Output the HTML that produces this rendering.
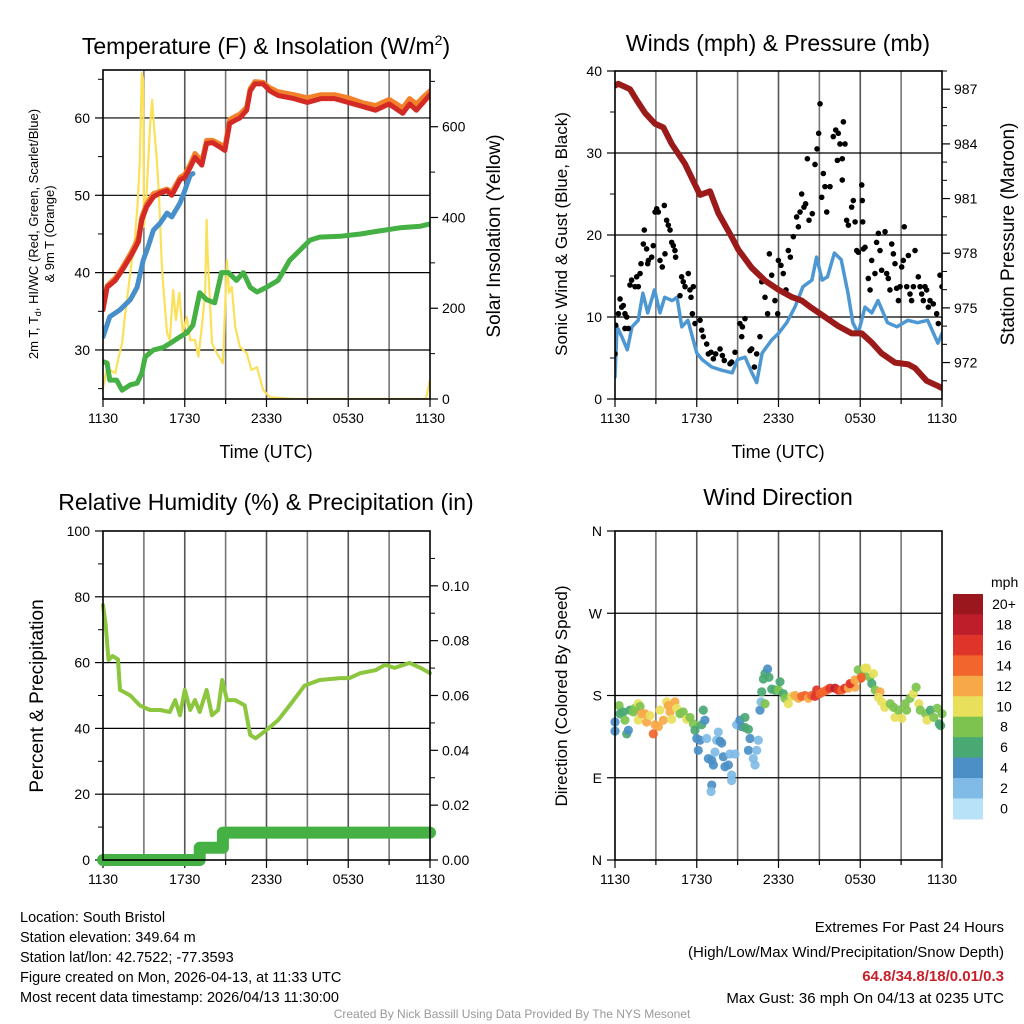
<!DOCTYPE html>
<html><head><meta charset="utf-8">
<style>
html,body{margin:0;padding:0;background:#fff;}
svg{display:block;font-family:"Liberation Sans",Arial,sans-serif;}
</style></head>
<body>
<svg id="c" width="1024" height="1024" viewBox="0 0 1024 1024" xmlns="http://www.w3.org/2000/svg">
<g>
<text x="266" y="54" font-size="23" text-anchor="middle">Temperature (F) &amp; Insolation (W/m<tspan font-size="14" dy="-9">2</tspan><tspan dy="9">)</tspan></text>
<text x="778" y="51" font-size="23" text-anchor="middle">Winds (mph) &amp; Pressure (mb)</text>
<text x="266" y="510" font-size="23" text-anchor="middle">Relative Humidity (%) &amp; Precipitation (in)</text>
<text x="778" y="505" font-size="23" text-anchor="middle">Wind Direction</text>
</g>
<g font-size="18">
<text x="266" y="458" text-anchor="middle">Time (UTC)</text>
<text x="778" y="458" text-anchor="middle">Time (UTC)</text>
<text transform="translate(38,234) rotate(-90)" font-size="13" text-anchor="middle">2m T, T<tspan font-size="9" dy="3">d</tspan><tspan dy="-3">, HI/WC (Red, Green, Scarlet/Blue)</tspan></text>
<text transform="translate(54,234) rotate(-90)" font-size="13" text-anchor="middle">&amp; 9m T (Orange)</text>
<text transform="translate(500,236) rotate(-90)" font-size="19" text-anchor="middle">Solar Insolation (Yellow)</text>
<text transform="translate(567,234) rotate(-90)" font-size="17" text-anchor="middle">Sonic Wind &amp; Gust (Blue, Black)</text>
<text transform="translate(1014,234) rotate(-90)" font-size="19" text-anchor="middle">Station Pressure (Maroon)</text>
<text transform="translate(43,696) rotate(-90)" font-size="19" text-anchor="middle">Percent &amp; Precipitation</text>
<text transform="translate(567,696) rotate(-90)" font-size="17" text-anchor="middle">Direction (Colored By Speed)</text>
</g>
<g font-size="14.5">
<text x="20" y="922">Location: South Bristol</text>
<text x="20" y="942">Station elevation: 349.64 m</text>
<text x="20" y="962">Station lat/lon: 42.7522; -77.3593</text>
<text x="20" y="982">Figure created on Mon, 2026-04-13, at 11:33 UTC</text>
<text x="20" y="1002">Most recent data timestamp: 2026/04/13 11:30:00</text>
</g>
<g font-size="15" text-anchor="end">
<text x="1004" y="932">Extremes For Past 24 Hours</text>
<text x="1004" y="957">(High/Low/Max Wind/Precipitation/Snow Depth)</text>
<text x="1004" y="981" fill="#c8202a" font-weight="bold">64.8/34.8/18/0.01/0.3</text>
<text x="1004" y="1003">Max Gust: 36 mph On 04/13 at 0235 UTC</text>
</g>
<text x="512" y="1018" font-size="12" fill="#999" text-anchor="middle">Created By Nick Bassill Using Data Provided By The NYS Mesonet</text>
</svg>
<script>
// ---- Temperature panel data (hours since 1130 UTC) ----
const redHours=[0,0.3,0.9,1.4,2.1,2.6,2.85,3.2,3.7,4.2,4.7,5.05,5.65,6.0,6.4,6.75,7.25,7.6,8.05,8.6,8.95,9.3,9.7,10.05,10.55,10.8,11.15,11.75,12.25,12.85,14,15,16,17,18,19,20,21,22,22.5,23,23.5,24];
const redTemp=[35.2,38.1,39,40.3,42.3,44,46.8,48.5,49.8,50.3,50.6,50,52,52.3,53.6,54.9,53.9,56.7,56.8,56.2,55.8,59.3,59.7,60,61,63.5,64.4,64.4,63.5,62.9,62.5,62,62.5,62.5,62,61.5,61,61.8,60.6,61.8,61,62,63];
const orangeTemp=[35.6,38.3,39.3,40.6,42.7,44.5,47.2,48.9,50.2,50.5,50.8,50.4,52.3,52.7,54,55.4,54.4,57.1,57.1,56.6,56.3,59.8,60.2,60.5,61.4,63.8,64.7,64.6,63.9,63.4,63,62.6,63,63,62.6,62,61.6,62.4,61.3,62.5,61.8,62.7,63.5];
const blueHours=[0,0.5,1.25,2,2.5,2.95,3.3,3.7,4.2,4.7,5.05,5.65,6.0,6.4,6.6];
const blueTemp=[31.7,34.3,35.2,36.5,38.1,41.6,43.3,45.5,46.4,47.7,47.2,49,50.6,52.6,52.8];
const dewHours=[0,0.3,0.5,1.0,1.4,2.0,2.5,2.85,3.1,3.7,4.4,5.05,5.65,6.15,6.6,7.1,7.6,8.2,8.7,9.2,9.8,10.3,10.8,11.3,12,12.85,13.7,15.2,15.9,17.4,18.9,20.3,21.8,23.3,24];
const dewTemp=[28.5,28.3,26.1,26.1,24.8,25.5,25.7,27,29.1,30,30.3,31,31.7,32.2,33.2,37.4,36.5,36.1,40,40,39,40,38.1,37.5,38.1,39,41.6,44.2,44.6,44.7,45,45.4,45.8,46,46.3];
const solarHours=[0,0.3,0.5,0.9,1.1,1.4,1.6,2.0,2.35,2.55,2.7,2.85,2.95,3.0,3.2,3.45,3.6,3.75,3.95,4.1,4.3,4.4,4.7,4.9,5.15,5.35,5.6,5.85,6.15,6.4,6.75,7.0,7.25,7.5,7.6,7.7,8.0,8.35,8.8,9.1,9.25,9.45,9.7,10.05,10.55,10.9,11.3,11.75,12.25,14,18,23.7,24];
const solarVals=[24,70,64,57,86,123,180,278,357,432,527,718,703,379,454,600,659,600,527,454,306,256,146,130,240,174,234,146,181,130,130,93,159,234,395,306,123,101,79,306,234,247,159,115,101,64,70,20,4,0,0,0,42];
// ---- Wind panel data ----
const windHours=[0,0.15,0.5,0.9,1.25,1.7,2.05,2.4,2.9,3.3,3.65,4.2,4.55,4.9,5.35,6.0,6.4,7.1,7.85,8.6,9.0,9.55,10.05,10.4,10.8,11.5,12,12.6,13.2,13.8,14.45,14.8,15.2,15.6,16.1,16.6,17.1,17.45,17.85,18.35,18.85,19.3,20,20.7,21.5,22.2,22.95,23.7,24];
const windSpeed=[2.7,8.8,7.6,6,8.8,9.6,12.9,10.5,13.3,10.5,12.4,12,12.4,8.8,9.6,5.6,4.8,3.9,3.5,3.2,4.8,5.1,3.2,2,5.6,7.2,8,9.3,11.2,13.7,14.5,17.3,14.5,14.9,17.8,17,12.9,9.3,8,11.2,10.5,12,9.3,8.8,9.6,9.3,9.6,6.8,8];
const gustHours=[0,0.05,0.25,0.37,0.49,0.61,0.73,0.86,0.73,0.98,1.1,1.22,1.47,1.59,1.71,1.84,1.91,2.08,2.15,2.32,2.4,2.45,2.69,2.81,2.94,3.06,3.18,3.3,3.47,3.62,3.67,3.79,3.91,4.04,4.16,4.28,4.4,4.45,4.77,4.89,5.01,5.14,5.38,5.5,5.58,5.68,5.75,5.87,6.24,6.36,6.48,6.73,6.85,7.05,7.22,7.39,7.71,7.88,8.02,8.44,8.56,8.81,9.17,9.35,9.54,9.3,9.91,10.03,10.23,10.4,10.64,10.77,11.01,11.2,11.33,11.5,11.74,11.94,11.99,12.18,12.35,12.55,12.72,12.87,13.09,13.33,13.46,13.58,13.7,13.87,13.99,14.12,14.24,14.48,14.68,14.83,14.95,15.05,15.17,15.29,15.41,15.54,15.78,16.02,16.2,16.32,16.39,16.51,16.68,16.76,16.88,16.68,17.0,17.13,17.37,17.49,17.62,18.11,18.15,18.18,17.74,17.86,18.23,18.35,18.59,18.72,18.84,19.08,19.2,19.33,19.45,19.57,19.82,19.94,20.06,20.18,20.31,20.43,20.55,20.67,20.8,20.92,21.04,21.16,21.23,21.41,21.53,21.65,21.77,21.9,22.02,22.26,22.39,22.51,22.63,22.75,22.87,23.0,23.12,23.36,23.61,23.73,23.85,24.0];
const gustSpeed=[5.5,9.0,10.4,12.2,11.2,11.4,10.4,10.0,8.6,8.6,13.9,14.5,13.7,14.9,13.7,15.3,16.5,18.9,20.6,18.3,16.5,16.9,17.3,18.7,22.8,23.2,22.8,16.9,16.1,23.6,17.7,21.8,21.2,20.6,19.1,18.7,18.1,17.3,12.6,14.9,14.3,13.7,15.3,13.3,12.4,10.4,13.7,9.2,9.6,8.4,7.6,6.7,5.5,5.7,4.9,5.5,6.1,5.3,4.7,4.3,4.5,5.7,9.2,8.8,9.8,7.6,5.9,6.1,3.9,5.5,7.6,14.3,12.4,10.4,17.7,15.1,12.0,10.4,16.9,16.3,15.3,13.3,18.1,17.3,19.8,22.2,21.0,22.8,25.0,23.4,23.8,29.3,21.8,22.6,28.6,30.5,32.4,36.0,24.6,27.5,25.9,22.8,25.9,32.0,32.8,29.1,32.4,31.1,29.3,33.8,31.1,26.7,21.8,21.2,23.4,24.2,21.6,26.1,24.2,21.6,18.1,17.9,18.3,18.5,14.7,13.3,16.9,15.3,19.1,20.2,18.1,15.7,20.4,15.3,14.7,13.3,18.9,17.7,16.5,13.5,12.0,13.7,16.1,16.9,21.0,13.7,17.5,12.8,12.0,13.7,18.1,14.9,13.7,12.8,12.0,13.7,13.3,11.2,12.0,11.6,10.4,9.2,15.1,13.7];
const presHours=[0,0.25,1.1,1.59,2.2,2.94,3.55,4.16,5.14,6.24,6.97,7.58,8.56,9.05,10.03,11.01,12,12.97,13.7,14.43,15.41,16.39,17.37,18.11,18.84,19.57,20.55,21.53,22.02,22.87,23.73,24];
const presVals=[987.2,987.3,987.0,986.4,985.7,985.1,984.9,984.0,982.9,981.2,981.4,980.2,978.9,978.2,977.2,976.5,976.0,975.6,975.4,975.0,974.5,974.0,973.6,973.6,973.1,972.5,972.0,971.9,971.7,971.0,970.7,970.6];
// ---- Humidity / precipitation ----
const rhHours=[0,0.2,0.4,0.7,1.1,1.25,2,2.7,3.45,4.2,4.9,5.3,5.65,6,6.4,6.75,7.1,7.6,8,8.45,8.75,9.1,9.7,10.4,10.8,11.2,12,12.85,13.7,14.8,15.9,17.4,18.1,18.9,20,20.7,21.4,22.5,23.3,24];
const rhVals=[77.5,71.4,60.8,62,61,51.7,50,47,45.6,45.6,45,48.6,44,51.7,45.6,48.6,45,51.7,44,45.6,54.7,48.6,48.6,47,38,37,39.5,42.5,47,53,54.7,55.3,55.3,56.8,57.7,59.3,58.4,59.9,58.4,56.8];
const precipHours=[0,7.1,7.1,8.8,8.8,24];
const precipVals=[0,0,0.0045,0.0045,0.01,0.01];
// ---- Wind direction ----
const dirHours=[0,0,0.3,0.37,0.61,0.73,0.86,0.98,1.1,1.35,1.47,1.71,1.71,1.84,1.96,2.2,2.32,2.57,2.81,2.94,3.18,3.3,3.55,3.79,3.91,4.04,4.16,4.4,4.53,4.77,5.01,5.26,5.5,5.75,5.87,6,6.11,6.24,6.36,6.48,6.6,6.73,6.85,7.1,7.22,7.46,7.58,7.71,7.83,7.34,7.95,8.07,8.32,8.44,8.56,8.56,8.81,7.1,7.05,8.93,9.17,9.3,9.54,9.54,9.79,9.91,9.79,10.15,10.28,10.4,10.52,10.64,10.72,11.01,10.77,10.89,11.01,11.2,11.3,11.5,11.74,11.99,12.11,12.35,12.47,12.72,12.97,13.21,13.46,13.7,13.94,14.19,14.43,14.68,14.8,15.05,15.29,15.54,15.78,16.15,16.39,16.64,16.88,17.13,17.37,17.62,17.86,18.05,18.23,18.47,17.25,17.6,17.85,18.1,18.35,18.7,18.85,18.97,19.1,19.45,19.33,19.57,19.8,20.2,20.45,20.55,20.8,21.05,21.3,21.4,21.65,21.9,22.1,22.3,22.4,22.8,22.9,23.15,23.4,23.65,23.8,24,23.9];
const dirVals=[151,141,169,160,162,153,138,142,164,162,166,171,153,168,160,160,151,158,138,148,146,164,153,173,169,162,154,173,166,160,162,154,156,149,142,133,120,131,148,164,153,133,111,109,104,131,140,130,128,118,113,102,104,116,93,87,116,82,75,148,153,146,156,145,143,133,120,111,104,120,131,164,173,171,184,198,204,209,200,187,186,186,195,182,177,171,179,180,177,179,180,177,180,179,186,182,184,186,188,188,186,186,188,188,193,189,198,199,206,210,193,197,208,200,210,200,193,204,186,184,178,173,167,171,167,156,164,155,171,164,177,182,189,171,164,160,153,164,156,166,149,160,147];
const dirSpeed=[5,5,9,7,7,9,7,5,7,9,9,11,11,9,13,13,13,11,15,13,13,11,13,11,13,13,11,13,11,9,9,11,9,9,7,5,5,5,7,7,5,3,5,5,5,3,3,5,5,3,5,5,5,3,3,3,3,5,3,3,5,5,7,7,7,5,5,3,3,3,3,5,3,9,7,7,7,5,7,7,7,9,7,7,9,11,11,13,13,15,15,13,15,17,17,15,15,15,17,19,17,15,17,13,15,13,11,17,9,11,17,13,9,15,11,9,7,11,9,13,11,11,11,9,9,11,9,11,9,9,9,11,9,11,9,9,11,7,9,9,7,9,7];
const speedBins=[0,2,4,6,8,10,12,14,16,18,20];
const speedColors=['#b8e2f7','#7fbbe6','#4b8fc6','#4aa872','#7dc34f','#e8e05a','#f7a848','#f2652d','#df3429','#be1e2a','#9a171d'];
const speedLabels=['0','2','4','6','8','10','12','14','16','18','20+'];
const xTickLabels=['1130','1730','2330','0530','1130'];

const NS='http://www.w3.org/2000/svg';
const svg=document.getElementById('c');
function mk(tag,attrs,parent){const e=document.createElementNS(NS,tag);for(const k in attrs)e.setAttribute(k,attrs[k]);(parent||svg).appendChild(e);return e;}
function lin(d0,d1,r0,r1){return v=>r0+(v-d0)*(r1-r0)/(d1-d0);}

function panel(name,x0,x1,y0,y1){
  const g=mk('g',{});
  
  
  const xs=lin(0,24,x0,x1);
  for(let h=3;h<24;h+=3){
    const l=mk('line',{x1:xs(h),x2:xs(h),y1:y0,y2:y1,stroke:h%6===0?'#555':'#777','stroke-width':1.6},g);
    
    
  }
  for(let h=0;h<=24;h+=3){
    mk('line',{x1:xs(h),x2:xs(h),y1:y1,y2:y1+(h%6===0?8:5),stroke:'#000','stroke-width':1.2},g);
  }
  xTickLabels.forEach((t,i)=>{
    const tx=mk('text',{x:xs(i*6),y:y1+24,'font-size':14,'text-anchor':'middle'},g);
    tx.textContent=t;
    
    
  });
  return {g,xs};
}
function yAxis(g,x0,x1,y0,y1,scale,majors,minors,labels,side,grid,fs){
  majors.forEach((v,i)=>{
    const y=scale(v);
    if(grid&&y>y0+1&&y<y1-1){const l=mk('line',{x1:x0,x2:x1,y1:y,y2:y,stroke:'#000','stroke-width':1.2},g);
      
      }
    const xa=side==='left'?x0:x1, d=side==='left'?-8:8;
    mk('line',{x1:xa,x2:xa+d,y1:y,y2:y,stroke:'#000','stroke-width':1.2},g);
    const t=mk('text',{x:xa+(side==='left'?-13:12),y:y+5,'font-size':fs||14,'text-anchor':side==='left'?'end':'start'},g);
    t.textContent=labels[i];
    
    
  });
  minors.forEach(v=>{const y=scale(v);const xa=side==='left'?x0:x1;mk('line',{x1:xa,x2:xa+(side==='left'?-5:5),y1:y,y2:y,stroke:'#000','stroke-width':1},g);});
}
function frame(g,x0,x1,y0,y1){const r=mk('rect',{x:x0,y:y0,width:x1-x0,height:y1-y0,fill:'none',stroke:'#000','stroke-width':1.6},g);
  
  }
function line(g,xs,ys,hours,vals,color,w,name){
  const d=hours.map((h,i)=>(i?'L':'M')+xs(h).toFixed(1)+','+ys(vals[i]).toFixed(1)).join('');
  const p=mk('path',{d:d,fill:'none',stroke:color,'stroke-width':w,'stroke-linejoin':'round','stroke-linecap':'round'},g);
  
  
  return p;
}
function clip(id,x0,x1,y0,y1){const cp=mk('clipPath',{id:id});mk('rect',{x:x0,y:y0,width:x1-x0,height:y1-y0},cp);}

(function(){
  const X0=103,X1=430,Y0=70,Y1=399;
  const {g,xs}=panel('temperature-panel',X0,X1,Y0,Y1);
  const yl=lin(23.66,66.2,Y1,Y0), yr=lin(0,725,Y1,Y0);
  yAxis(g,X0,X1,Y0,Y1,yl,[30,40,50,60],[25,35,45,55,65],['30','40','50','60'],'left',true);
  yAxis(g,X0,X1,Y0,Y1,yr,[0,200,400,600],[100,300,500,700],['0','200','400','600'],'right',false);
  clip('cp1',X0,X1,Y0-4,Y1);
  const d=mk('g',{'clip-path':'url(#cp1)'},g);
  line(d,xs,yr,solarHours,solarVals,'#fbe05a',2.2,'solar-line');
  line(d,xs,yl,dewHours,dewTemp,'#45b044',5,'dewpoint-line');
  line(d,xs,yl,redHours,orangeTemp,'#f2812a',5,'temp-9m-line');
  line(d,xs,yl,blueHours,blueTemp,'#468fcb',5,'heat-index-line');
  line(d,xs,yl,redHours,redTemp,'#d42a26',5,'temp-2m-line');
  frame(g,X0,X1,Y0,Y1);
})();
(function(){
  const X0=615,X1=942,Y0=71,Y1=399;
  const {g,xs}=panel('wind-panel',X0,X1,Y0,Y1);
  const yl=lin(0,40,Y1,Y0), yr=lin(970,988,Y1,Y0);
  yAxis(g,X0,X1,Y0,Y1,yl,[0,10,20,30,40],[5,15,25,35],['0','10','20','30','40'],'left',true);
  const pm=[];for(let p=971;p<=988;p++)if((p-972)%3!==0)pm.push(p);
  yAxis(g,X0,X1,Y0,Y1,yr,[972,975,978,981,984,987],pm,['972','975','978','981','984','987'],'right',false);
  clip('cp2',X0,X1,Y0,Y1);
  const d=mk('g',{'clip-path':'url(#cp2)'},g);
  line(d,xs,yl,windHours,windSpeed,'#4d97d2',3.5,'sustained-wind-line');
  gustHours.forEach((h,i)=>{
    const c=mk('circle',{cx:xs(h),cy:yl(gustSpeed[i]),r:2.8,fill:'#000'},d);
    
    
  });
  line(d,xs,yr,presHours,presVals,'#9b1a1a',6,'pressure-line');
  frame(g,X0,X1,Y0,Y1);
})();
(function(){
  const X0=103,X1=430,Y0=531,Y1=860;
  const {g,xs}=panel('humidity-panel',X0,X1,Y0,Y1);
  const yl=lin(0,100,Y1,Y0), yr=lin(0,0.12,Y1,Y0);
  yAxis(g,X0,X1,Y0,Y1,yl,[0,20,40,60,80,100],[10,30,50,70,90],['0','20','40','60','80','100'],'left',true);
  yAxis(g,X0,X1,Y0,Y1,yr,[0,0.02,0.04,0.06,0.08,0.10],[0.01,0.03,0.05,0.07,0.09,0.11],['0.00','0.02','0.04','0.06','0.08','0.10'],'right',false);
  line(g,xs,yl,rhHours,rhVals,'#8cc63f',4,'humidity-line');
  line(g,xs,yr,precipHours,precipVals,'#45b044',12,'precipitation-line');
  frame(g,X0,X1,Y0,Y1);
})();
(function(){
  const X0=615,X1=942,Y0=531,Y1=860;
  const {g,xs}=panel('wind-direction-panel',X0,X1,Y0,Y1);
  const yl=lin(0,360,Y1,Y0);
  yAxis(g,X0,X1,Y0,Y1,yl,[0,90,180,270,360],[],['N','E','S','W','N'],'left',true);
  function colorOf(s){let k=0;for(let i=0;i<speedBins.length;i++)if(s>=speedBins[i])k=i;return speedColors[k];}
  dirHours.forEach((h,i)=>{
    const c=mk('circle',{cx:xs(h),cy:yl(dirVals[i]),r:4.6,fill:colorOf(dirSpeed[i]),'fill-opacity':0.92},g);
    
    
  });
  frame(g,X0,X1,Y0,Y1);
  const cb=mk('g',{});
  
  
  const top=594,bh=20.45;
  const t=mk('text',{x:991,y:587,'font-size':14},cb);t.textContent='mph';
  
  
  for(let i=0;i<speedColors.length;i++){
    const k=speedColors.length-1-i;
    const r=mk('rect',{x:953,y:top+i*bh,width:30,height:bh+0.5,fill:speedColors[k]},cb);
    
    
    const l=mk('text',{x:1004,y:top+i*bh+15,'font-size':14,'text-anchor':'middle'},cb);
    l.textContent=speedLabels[k];
    
    
  }
})();
</script>
</body></html>
